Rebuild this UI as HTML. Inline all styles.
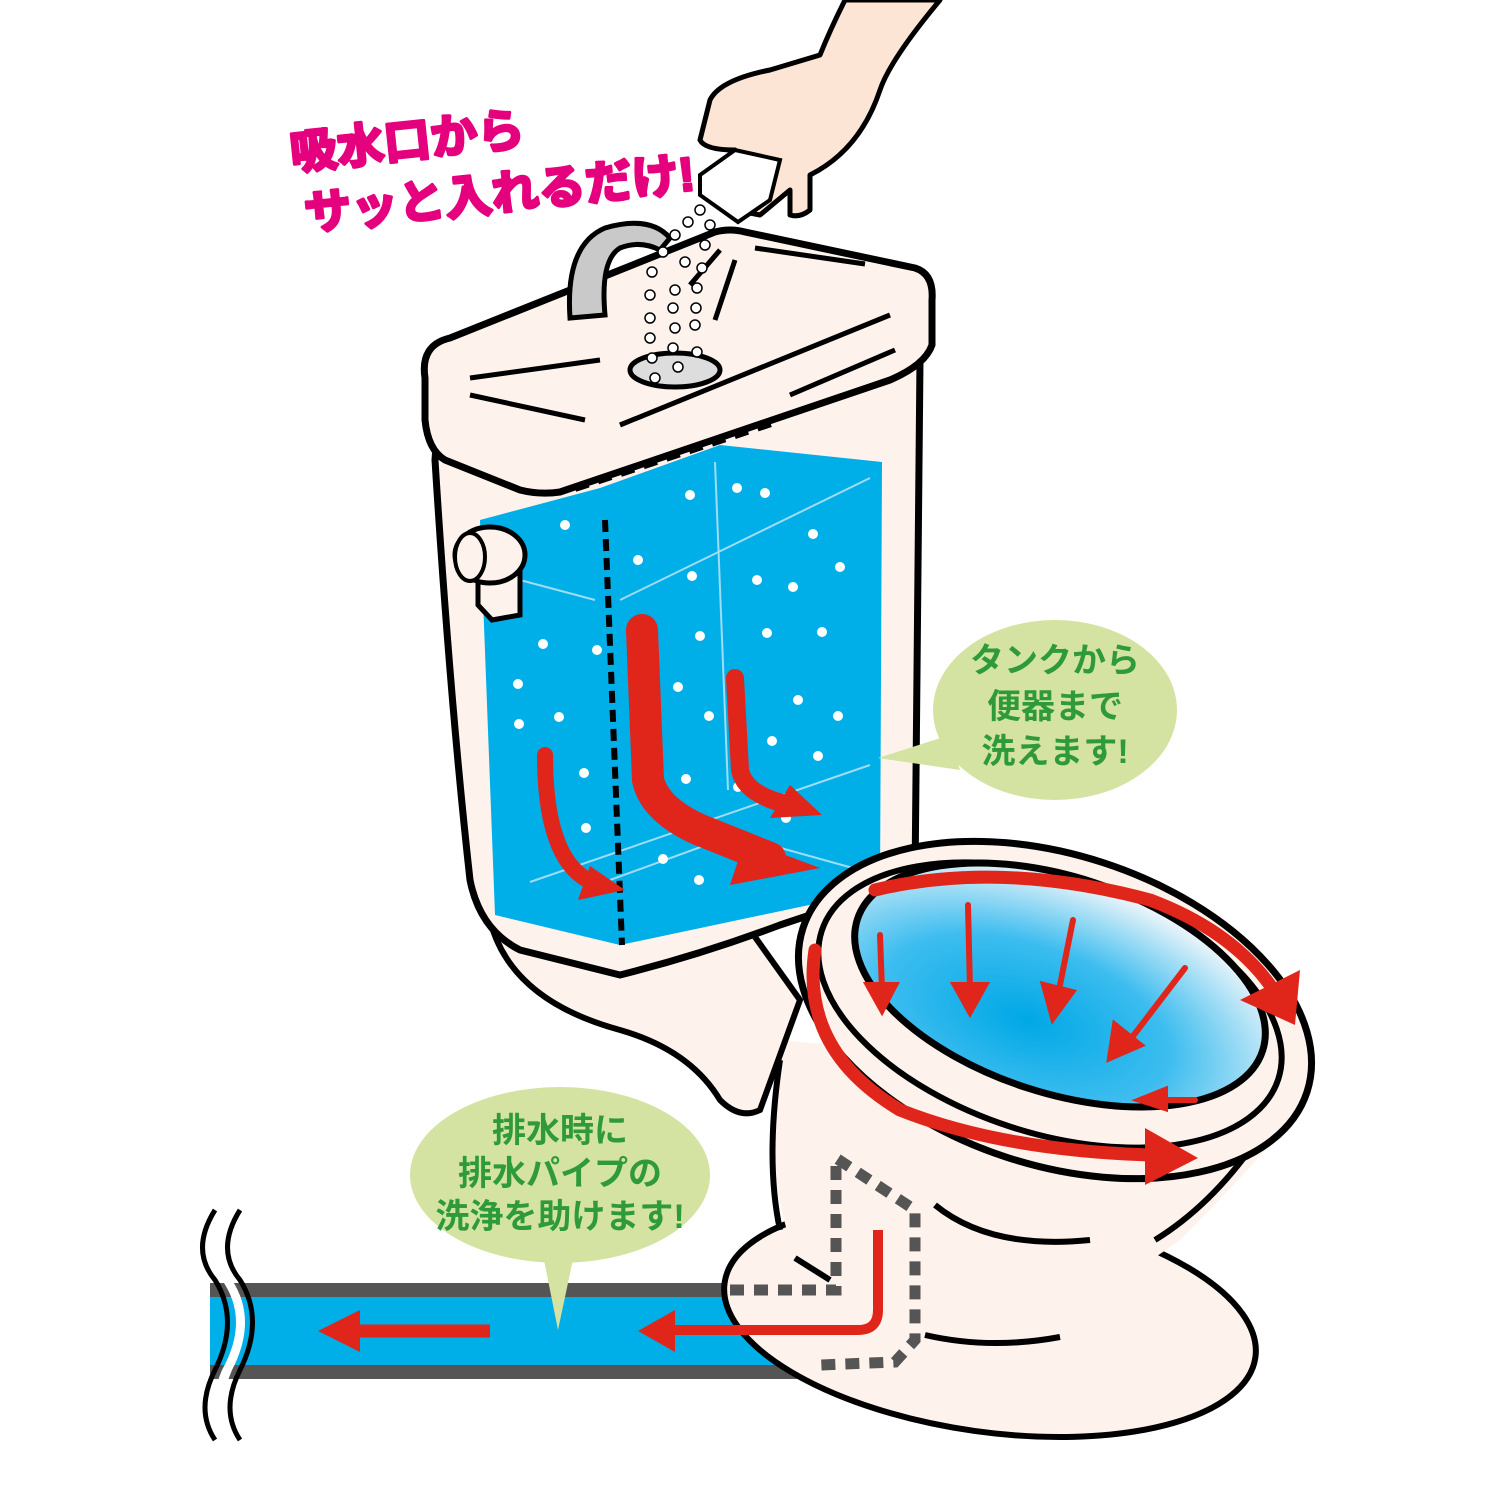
<!DOCTYPE html>
<html><head><meta charset="utf-8"><style>
html,body{margin:0;padding:0;background:#fff}
svg{display:block}
.t{font-family:"Liberation Sans","Noto Sans CJK JP",sans-serif;font-weight:bold}
</style></head><body>
<svg width="1500" height="1500" viewBox="0 0 1500 1500" xmlns="http://www.w3.org/2000/svg">
<defs>
<radialGradient id="bw" cx="0.45" cy="0.7" r="0.7">
<stop offset="0" stop-color="#00a8e6"/><stop offset="0.5" stop-color="#3dbdef"/><stop offset="1" stop-color="#f2f7fa"/>
</radialGradient>
</defs>
<!-- pipe -->
<rect x="210" y="1283" width="620" height="96" fill="#00aee8"/>
<rect x="210" y="1283" width="620" height="14" fill="#555"/>
<rect x="210" y="1365" width="620" height="14" fill="#555"/>
<path d="M219,1210 Q202,1250 222,1280 Q250,1320 222,1370 Q205,1410 222,1440 L232,1440 Q215,1410 232,1370 Q258,1320 232,1280 Q210,1250 230,1210Z" fill="#fff"/>
<path d="M215,1210 Q190,1250 215,1280 Q240,1320 215,1370 Q195,1410 215,1440" fill="none" stroke="#000" stroke-width="5"/>
<path d="M240,1210 Q215,1250 240,1280 Q265,1320 240,1370 Q220,1410 240,1440" fill="none" stroke="#000" stroke-width="5"/>
<path d="M490,1331 L345,1331" stroke="#e0261b" stroke-width="13" fill="none"/>
<path d="M360,1310 L318,1331 L360,1352Z" fill="#e0261b"/>
<!-- base pedestal -->
<ellipse cx="990" cy="1320" rx="268" ry="112" transform="rotate(8 990 1320)" fill="#fdf3ec" stroke="#000" stroke-width="6"/>
<!-- bowl body -->
<path d="M780,1040 Q760,1150 790,1240 Q820,1300 860,1320 Q1000,1340 1080,1310 L1180,1240 Q1250,1170 1300,1110 L1180,1080Z" fill="#fdf3ec"/>
<path d="M780,1060 Q765,1160 780,1230" fill="none" stroke="#000" stroke-width="6"/>
<path d="M1270,1120 Q1220,1200 1155,1240" fill="none" stroke="#000" stroke-width="6"/>
<path d="M935,1205 Q990,1250 1090,1240" fill="none" stroke="#000" stroke-width="6"/>
<path d="M925,1335 Q990,1350 1060,1337" fill="none" stroke="#000" stroke-width="6"/>
<path d="M795,1258 L830,1280" stroke="#000" stroke-width="6"/>
<!-- tank neck -->
<path d="M490,920 Q510,1000 620,1030 Q690,1050 720,1100 Q740,1120 760,1110 L800,1000 L750,930Z" fill="#fdf3ec" stroke="#000" stroke-width="6"/>
<!-- tank body -->
<path d="M440,390 L435,460 Q450,700 470,880 Q480,930 520,950 L620,975 Q700,955 780,925 L915,880 L920,360Z" fill="#fdf3ec" stroke="#000" stroke-width="7" stroke-linejoin="round"/>
<path d="M480,520 L600,488 L720,445 L882,462 L880,890 L620,945 L495,915Z" fill="#00aee8"/>
<g stroke="#9fdcf5" stroke-width="2" fill="none">
<path d="M520,580 L595,600 M620,600 L870,478 M715,462 L728,790 M530,882 L870,765 M610,880 L720,840 M770,845 L860,870"/>
</g>
<path d="M605,520 L622,945" stroke="#000" stroke-width="6" stroke-dasharray="12,7"/>
<path d="M455,462 Q520,470 560,485" stroke="#000" stroke-width="7" fill="none"/>
<path d="M575,488 L720,440 L780,420" stroke="#000" stroke-width="8" stroke-dasharray="14,10" fill="none"/>
<!-- lid -->
<path d="M425,378 Q420,345 450,338 L715,232 Q730,228 745,232 L915,268 Q934,274 932,300 L932,345 Q925,365 890,380 L560,492 Q540,495 520,490 L445,460 Q428,450 425,420Z" fill="#fdf3ec" stroke="#000" stroke-width="7" stroke-linejoin="round"/>
<g stroke="#000" stroke-width="5" fill="none">
<path d="M470,378 L600,360 M470,395 L585,420 M620,425 L890,315 M755,248 L865,264 M720,250 L690,285 M735,260 L715,320 M790,395 L895,350"/>
</g>
<path d="M570,318 Q565,245 605,228 Q650,215 670,238 L660,250 Q640,240 620,248 Q600,260 605,315Z" fill="#c9c9c9" stroke="#000" stroke-width="5"/>
<ellipse cx="675" cy="370" rx="45" ry="17" fill="#ddd" stroke="#000" stroke-width="5"/>
<g fill="#fff" stroke="#000" stroke-width="1.5">
<circle cx="700" cy="210" r="5"/><circle cx="688" cy="222" r="5"/><circle cx="710" cy="225" r="5"/><circle cx="675" cy="235" r="5"/><circle cx="705" cy="245" r="5"/><circle cx="663" cy="252" r="5"/><circle cx="685" cy="262" r="5"/><circle cx="702" cy="268" r="5"/><circle cx="652" cy="272" r="5"/><circle cx="675" cy="290" r="5"/><circle cx="697" cy="288" r="5"/><circle cx="650" cy="295" r="5"/><circle cx="673" cy="308" r="5"/><circle cx="696" cy="308" r="5"/><circle cx="650" cy="318" r="5"/><circle cx="675" cy="328" r="5"/><circle cx="695" cy="325" r="5"/><circle cx="650" cy="338" r="5"/><circle cx="673" cy="348" r="5"/><circle cx="697" cy="352" r="5"/><circle cx="652" cy="358" r="5"/><circle cx="678" cy="367" r="5"/><circle cx="655" cy="378" r="5"/>
</g>
<g fill="#fff">
<circle cx="565" cy="525" r="5"/><circle cx="690" cy="495" r="5"/><circle cx="737" cy="488" r="5"/><circle cx="765" cy="493" r="5"/><circle cx="813" cy="534" r="5"/><circle cx="638" cy="560" r="5"/><circle cx="692" cy="576" r="5"/><circle cx="757" cy="580" r="5"/><circle cx="793" cy="587" r="5"/><circle cx="840" cy="567" r="5"/><circle cx="700" cy="636" r="5"/><circle cx="767" cy="633" r="5"/><circle cx="822" cy="632" r="5"/><circle cx="543" cy="644" r="5"/><circle cx="597" cy="650" r="5"/><circle cx="518" cy="684" r="5"/><circle cx="678" cy="687" r="5"/><circle cx="798" cy="700" r="5"/><circle cx="519" cy="724" r="5"/><circle cx="559" cy="717" r="5"/><circle cx="709" cy="716" r="5"/><circle cx="838" cy="716" r="5"/><circle cx="772" cy="741" r="5"/><circle cx="818" cy="756" r="5"/><circle cx="584" cy="773" r="5"/><circle cx="686" cy="779" r="5"/><circle cx="738" cy="787" r="5"/><circle cx="786" cy="818" r="5"/><circle cx="586" cy="828" r="5"/><circle cx="663" cy="859" r="5"/><circle cx="699" cy="880" r="5"/>
</g>
<g fill="none" stroke="#e0261b" stroke-linecap="round">
<path d="M545,755 Q545,870 600,885" stroke-width="16"/>
<path d="M642,630 L648,780 Q655,810 700,830 L770,858" stroke-width="32"/>
<path d="M735,678 L740,770 Q745,795 790,805" stroke-width="18"/>
</g>
<g fill="#e0261b">
<path d="M590,866 L625,890 L578,900Z"/><path d="M745,840 L820,868 L730,885Z"/><path d="M790,785 L822,815 L770,818Z"/>
</g>
<path d="M478,570 L520,570 L520,615 L492,620 L478,605Z" fill="#fdf3ec" stroke="#000" stroke-width="5"/>
<ellipse cx="490" cy="555" rx="35" ry="28" fill="#fdf3ec" stroke="#000" stroke-width="5"/>
<ellipse cx="470" cy="557" rx="15" ry="24" fill="#fdf3ec" stroke="#000" stroke-width="4"/>
<!-- bowl rim -->
<ellipse cx="1055" cy="1010" rx="265" ry="155" transform="rotate(18 1055 1010)" fill="#fdf3ec" stroke="#000" stroke-width="7"/>
<ellipse cx="1050" cy="1005" rx="240" ry="128" transform="rotate(18 1050 1005)" fill="none" stroke="#000" stroke-width="6"/>
<ellipse cx="1060" cy="985" rx="213" ry="108" transform="rotate(18 1060 985)" fill="url(#bw)" stroke="#000" stroke-width="7"/>
<g fill="#e0261b" stroke="#e0261b" stroke-width="6" stroke-linecap="round">
<path d="M880,935 L882,990" fill="none"/><path d="M868,985 L895,985 L882,1010Z"/>
<path d="M968,905 L970,990" fill="none"/><path d="M955,985 L985,985 L970,1012Z"/>
<path d="M1073,920 L1058,995" fill="none"/><path d="M1044,985 L1072,992 L1053,1018Z"/>
<path d="M1185,968 L1130,1040" fill="none"/><path d="M1115,1025 L1140,1045 L1110,1058Z"/>
<path d="M1195,1100 L1160,1100" fill="none"/><path d="M1165,1090 L1140,1100 L1165,1108Z"/>
</g>
<g fill="none" stroke="#e0261b" stroke-width="13" stroke-linecap="round">
<path d="M875,890 Q1000,860 1150,900 Q1230,930 1270,985"/>
<path d="M815,950 Q800,1050 900,1110 Q1000,1150 1150,1155"/>
</g>
<g fill="#e0261b"><path d="M1240,1000 L1300,970 L1295,1025Z"/><path d="M1145,1128 L1198,1158 L1145,1185Z"/></g>
<path d="M730,1290 L836,1290 L836,1158 L915,1210 L915,1340 L895,1362 L820,1365" fill="none" stroke="#555" stroke-width="11" stroke-dasharray="14,10"/>
<path d="M878,1230 L878,1310 Q878,1330 858,1330 L660,1330" fill="none" stroke="#e0261b" stroke-width="10"/>
<path d="M675,1310 L638,1331 L675,1352Z" fill="#e0261b"/>
<!-- bubbles -->
<ellipse cx="1055" cy="710" rx="122" ry="90" fill="#d4e3a2"/>
<path d="M950,735 L878,758 L960,770Z" fill="#d4e3a2"/>
<text class="t" fill="#2e9a3a" font-size="34" text-anchor="middle"><tspan x="1055" y="672">タンクから</tspan><tspan x="1055" y="718">便器まで</tspan><tspan x="1055" y="763">洗えます!</tspan></text>
<ellipse cx="560" cy="1175" rx="150" ry="88" fill="#d4e3a2"/>
<path d="M542,1250 L558,1330 L575,1250Z" fill="#d4e3a2"/>
<text class="t" fill="#2e9a3a" font-size="34" text-anchor="middle"><tspan x="560" y="1142">排水時に</tspan><tspan x="560" y="1185">排水パイプの</tspan><tspan x="560" y="1228">洗浄を助けます!</tspan></text>
<!-- hand -->
<path d="M845,0 Q830,30 820,55 L770,70 Q720,80 710,100 L700,140 Q705,150 735,150 L735,210 L760,215 L790,190 L790,215 Q800,218 810,210 L810,175 Q860,150 880,90 Q890,60 940,0Z" fill="#fde5d5" stroke="#000" stroke-width="5" stroke-linejoin="round"/>
<path d="M700,175 L735,150 L780,160 L770,200 L738,222 L700,195Z" fill="#fff" stroke="#000" stroke-width="4"/>
<!-- pink text -->
<g transform="rotate(-6 480 160)">
<text class="t" fill="#e5007e" font-size="47" stroke="#e5007e" stroke-width="3" stroke-linejoin="round"><tspan x="292" y="150">吸水口から</tspan><tspan x="300" y="212">サッと入れるだけ!</tspan></text>
</g>
</svg>
</body></html>
